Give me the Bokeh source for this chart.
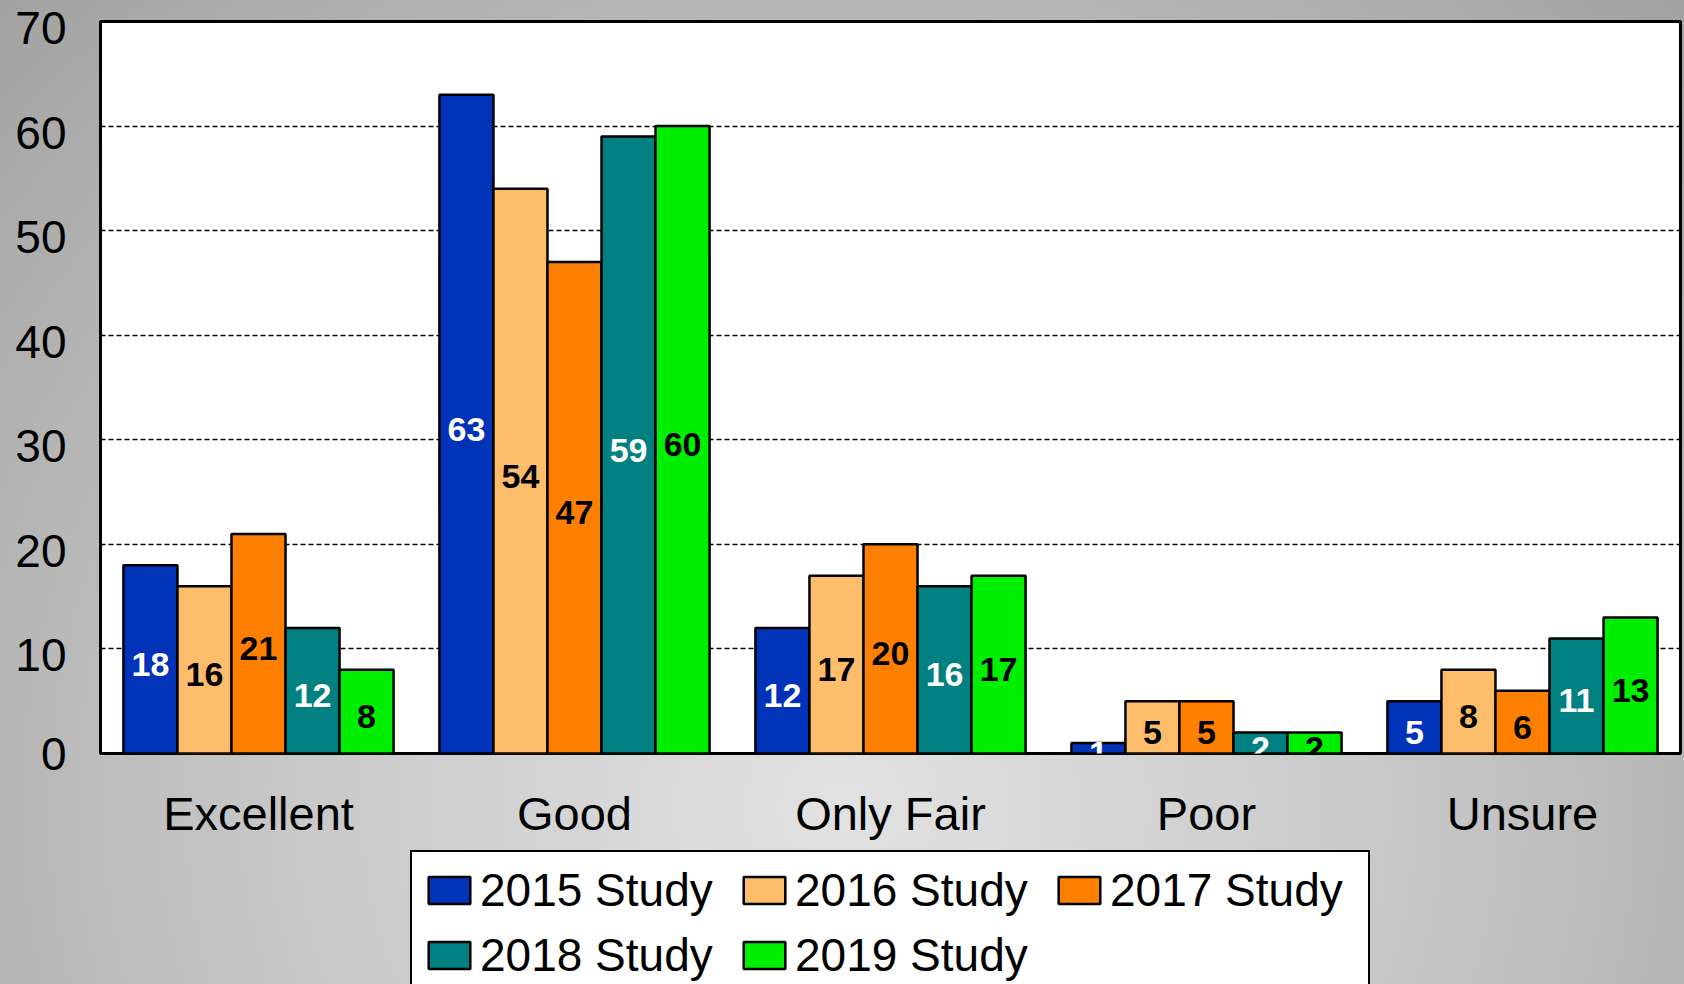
from bokeh.plotting import figure
from bokeh.layouts import column
from bokeh.models import (ColumnDataSource, FactorRange, Range1d, FixedTicker,
                          LabelSet, Legend, LegendItem, LinearAxis,
                          CustomJSTickFormatter)
from bokeh.transform import dodge
from bokeh.core.properties import value
from bokeh.embed import file_html
from bokeh.resources import INLINE

categories = ["Excellent", "Good", "Only Fair", "Poor", "Unsure"]
series_names = ["2015 Study", "2016 Study", "2017 Study", "2018 Study", "2019 Study"]
v2015 = [18, 63, 12, 1, 5]
v2016 = [16, 54, 17, 5, 8]
v2017 = [21, 47, 20, 5, 6]
v2018 = [12, 59, 16, 2, 11]
v2019 = [8, 60, 17, 2, 13]
y_ticks = [0, 10, 20, 30, 40, 50, 60, 70]

series_values = [v2015, v2016, v2017, v2018, v2019]
colors = ["#0033B8", "#FDBD6B", "#FF8000", "#008080", "#00EE00"]
label_colors = ["white", "black", "black", "white", "black"]

FONT = "Liberation Sans"
W = 1684
SHIFT = 0.625   # tick labels sit ~6px below their grid lines, as in the original

p = figure(x_range=FactorRange(factors=categories, range_padding=0),
           y_range=Range1d(0, 70),
           width=W, height=848,
           output_backend="svg", toolbar_location=None,
           min_border_left=100, min_border_right=4,
           min_border_top=21, min_border_bottom=95)

p.border_fill_color = None
p.background_fill_color = "white"
p.outline_line_color = "black"
p.outline_line_width = 3

bw = 0.171
offsets = [-2 * bw, -bw, 0, bw, 2 * bw]
for name, vals, col, lc, off in zip(series_names, series_values, colors, label_colors, offsets):
    src = ColumnDataSource(dict(cat=categories, val=vals,
                                mid=[v / 2 for v in vals],
                                txt=[str(v) for v in vals]))
    p.vbar(x=dodge("cat", off, range=p.x_range), top="val", width=bw,
           source=src, fill_color=col, line_color="black", line_width=2.5)
    lbl = LabelSet(x=dodge("cat", off, range=p.x_range), y="mid", text="txt",
                   source=src, text_align="center", text_baseline="middle",
                   y_offset=-5,
                   text_font=value(FONT), text_font_size="34px",
                   text_font_style="bold", text_color=lc)
    p.add_layout(lbl)

# primary y axis only drives the grid; labels come from a slightly shifted axis
p.yaxis.ticker = FixedTicker(ticks=y_ticks)
p.yaxis.visible = False
p.extra_y_ranges = {"lab": Range1d(SHIFT, 70 + SHIFT)}
lab_ticks = [max(t, SHIFT) for t in y_ticks]
lab_axis = LinearAxis(y_range_name="lab", ticker=FixedTicker(ticks=lab_ticks),
                      formatter=CustomJSTickFormatter(code="return Math.floor(tick).toString()"))
lab_axis.major_label_text_font = FONT
lab_axis.major_label_text_font_size = "46px"
lab_axis.major_label_text_color = "black"
lab_axis.major_label_standoff = 28
lab_axis.axis_line_color = None
lab_axis.major_tick_line_color = None
lab_axis.minor_tick_line_color = None
p.add_layout(lab_axis, "left")

p.xaxis.major_label_text_font = FONT
p.xaxis.major_label_text_font_size = "47px"
p.xaxis.major_label_text_color = "black"
p.xaxis.major_label_standoff = 27
p.xaxis.axis_line_color = None
p.xaxis.major_tick_line_color = None

p.xgrid.grid_line_color = None
p.ygrid.grid_line_color = "black"
p.ygrid.grid_line_dash = "5 3"
p.ygrid.grid_line_width = 1.4

# legend figure below the chart (its box is cut by the window's bottom edge)
pl = figure(x_range=Range1d(0, 1), y_range=Range1d(0, 1), width=W, height=136,
            output_backend="svg", toolbar_location=None,
            x_axis_location=None, y_axis_location=None,
            min_border_left=100, min_border_right=4, min_border_top=0, min_border_bottom=0)
pl.border_fill_color = None
pl.background_fill_color = None
pl.outline_line_color = None
pl.xgrid.visible = False
pl.ygrid.visible = False

items = []
nan = float("nan")
for name, col in zip(series_names, colors):
    # swatch-only renderer (no drawable point); only its legend entry shows
    r = pl.vbar(x=[nan], top=[nan], bottom=[nan], width=0.1, fill_color=col,
                line_color="black", line_width=2.5)
    items.append(LegendItem(label=name, renderers=[r]))

legend = Legend(items=items, ncols=3, orientation="horizontal",
                location=(310, -11),
                glyph_width=52, glyph_height=34, label_standoff=5,
                label_width=247, label_height=51, spacing=11, padding=11,
                margin=0,
                label_text_font=FONT, label_text_font_size="46px",
                label_text_color="black",
                border_line_color="black", border_line_width=2.5,
                border_line_alpha=1.0,
                background_fill_color="white", background_fill_alpha=1)
pl.add_layout(legend, "center")

layout = column(p, pl, spacing=0)
layout.styles = {"background": "radial-gradient(ellipse farthest-corner at 50% 82%, #e2e2e2 0%, #c9c9c9 45%, #a2a2a2 100%)"}

open("out.html", "w").write(file_html(layout, INLINE))
